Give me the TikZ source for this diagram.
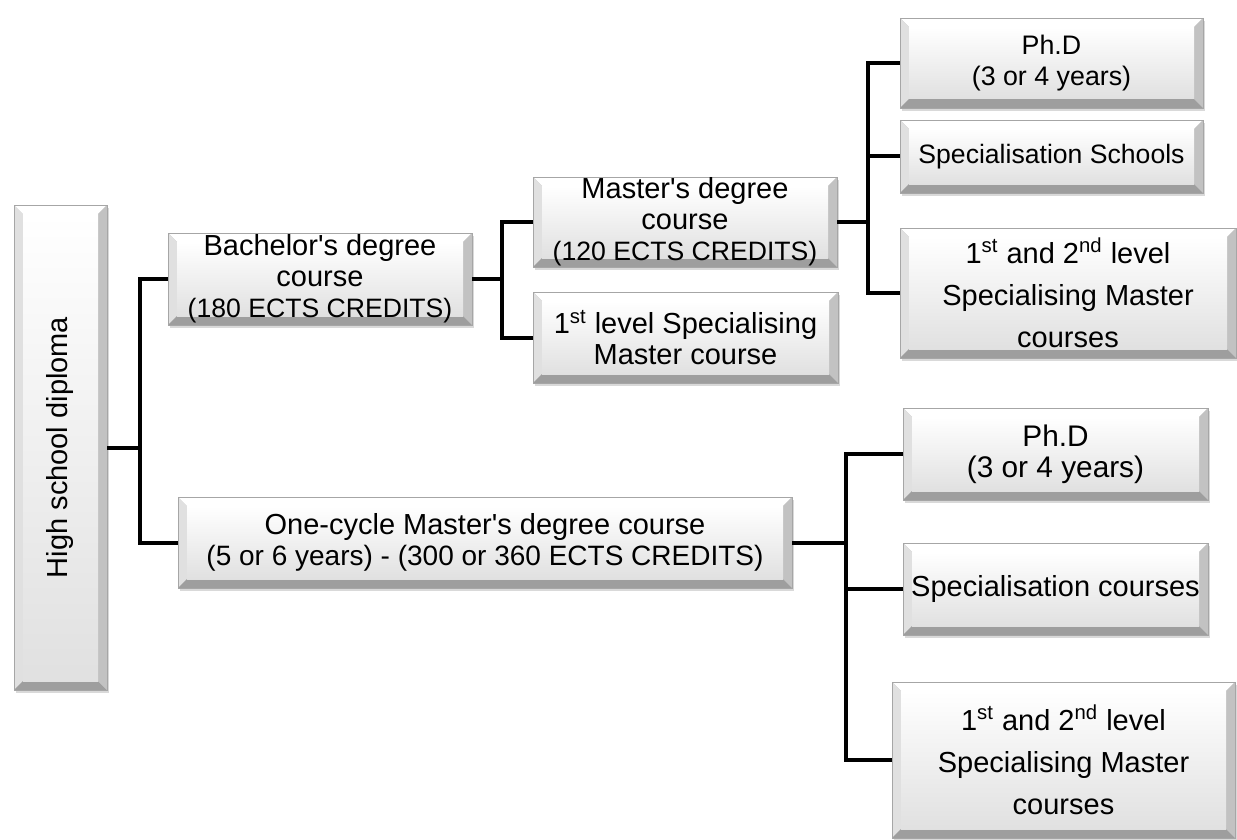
\documentclass[tikz,border=0pt]{standalone}
\usepackage{fontspec}
\setmainfont{Liberation Sans}
\usepackage{graphicx}
\usepackage{tikz}
\usetikzlibrary{shadows}
\newcommand{\fs}[1]{\fontsize{#1}{15.5}\selectfont}
\tikzstyle{edge}=[
	-,
	draw=black,
	line width=2pt,
	line join=miter
]
\tikzstyle{box}=[
	rectangle,
	draw=black!35,
	line width=0.4pt,
	inner sep=0pt,
	align=center,
	font=\fontsize{14.5}{15.5}\selectfont,
	drop shadow={opacity=0.3, shadow xshift=1.2pt, shadow yshift=-1.5pt},
	path picture={
		\path (path picture bounding box.south west) coordinate (pa)
		      (path picture bounding box.north east) coordinate (pb);
		\fill[black!30] (pa) rectangle (pb);
		\fill[white] (pa |- pb) -- (pb) -- ([shift={(-4.5pt,-4.5pt)}]pb)
		    -- ([shift={(4.5pt,-4.5pt)}]pa |- pb) -- cycle;
		\fill[black!12] (pa) -- (pa |- pb) -- ([shift={(4.5pt,-4.5pt)}]pa |- pb)
		    -- ([shift={(4.5pt,4.5pt)}]pa) -- cycle;
		\fill[black!38] (pa) -- (pb |- pa) -- ([shift={(-4.5pt,4.5pt)}]pb |- pa)
		    -- ([shift={(4.5pt,4.5pt)}]pa) -- cycle;
		\fill[black!24] (pb |- pa) -- (pb) -- ([shift={(-4.5pt,-4.5pt)}]pb)
		    -- ([shift={(-4.5pt,4.5pt)}]pb |- pa) -- cycle;
		\shade[top color=white, bottom color=black!12]
		    ([shift={(4.5pt,4.5pt)}]pa) rectangle ([shift={(-4.5pt,-4.5pt)}]pb);
	}
]
\tikzstyle{tall}=[
	box,
	font=\fontsize{14.5}{21}\selectfont
]

\begin{document}
\begin{tikzpicture}[x=0.5pt, y=-0.5pt]
\useasboundingbox (0,0) rectangle (1237,840);

\node[box, minimum width=46.5pt, minimum height=242.5pt] (hs) at (60.5, 447.5)
    {\rotatebox{90}{High school diploma}};
\node[box, minimum width=152pt, minimum height=46pt] (bach) at (320, 279)
    {Bachelor\textquotesingle s degree\\course\\{\fs{13.3}(180 ECTS CREDITS)}};
\node[box, minimum width=152pt, minimum height=45pt] (mast) at (685, 222)
    {Master\textquotesingle s degree\\course\\{\fs{13.3}(120 ECTS CREDITS)}};
\node[box, minimum width=152.5pt, minimum height=45.5pt] (lvl1) at (685.5, 337.5)
    {1\textsuperscript{st} level Specialising\\Master course};
\node[box, minimum width=151.5pt, minimum height=45pt, font=\fs{13.4}] (phd1) at (1051.5, 63)
    {Ph.D\\(3 or 4 years)};
\node[box, minimum width=151.5pt, minimum height=36.5pt, font=\fs{13.3}] (spsch) at (1051.5, 156.5)
    {Specialisation Schools};
\node[tall, minimum width=168pt, minimum height=65pt] (lvl12a) at (1068, 293)
    {1\textsuperscript{st} and 2\textsuperscript{nd} level\\Specialising Master\\courses};
\node[box, minimum width=307pt, minimum height=45.5pt] (one) at (485, 542.5)
    {One-cycle Master\textquotesingle s degree course\\{\fs{14}(5 or 6 years) - (300 or 360 ECTS CREDITS)}};
\node[box, minimum width=152.5pt, minimum height=46pt, font=\fs{14.9}] (phd2) at (1055.5, 454)
    {Ph.D\\(3 or 4 years)};
\node[box, minimum width=152.5pt, minimum height=46pt] (spcrs) at (1055.5, 589)
    {Specialisation courses};
\node[tall, minimum width=171.5pt, minimum height=78pt] (lvl12b) at (1063.5, 760)
    {1\textsuperscript{st} and 2\textsuperscript{nd} level\\Specialising Master\\courses};

\coordinate (j1) at (140, 447.5);
\coordinate (j2) at (502, 279);
\coordinate (j3) at (868, 222);
\coordinate (j4) at (846, 542.5);

\draw[edge] (hs) -- (j1) |- (bach);
\draw[edge] (j1) |- (one);
\draw[edge] (bach) -- (j2) |- (mast);
\draw[edge] (j2) |- (lvl1);
\draw[edge] (mast) -- (j3);
\foreach \t in {phd1, spsch, lvl12a}
    \draw[edge] (j3) |- (\t);
\draw[edge] (one) -- (j4);
\foreach \t in {phd2, spcrs, lvl12b}
    \draw[edge] (j4) |- (\t);

\end{tikzpicture}
\end{document}
